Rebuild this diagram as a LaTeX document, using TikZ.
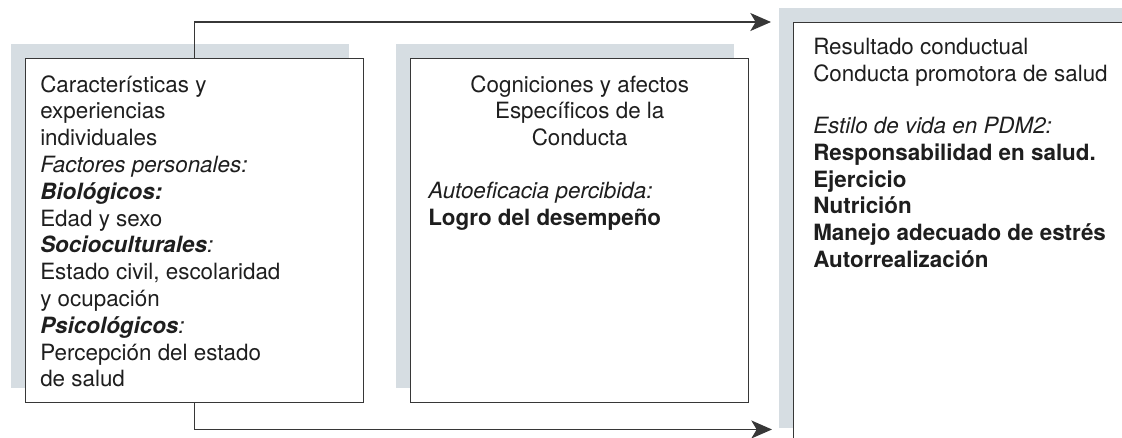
\documentclass[tikz,border=0pt]{standalone}
\usepackage{fontspec}
\setmainfont{TeX Gyre Heros}
\usetikzlibrary{arrows.meta,shadows}
\definecolor{grisazul}{RGB}{214,221,226}
\definecolor{linea}{RGB}{55,55,55}
\definecolor{tinta}{RGB}{30,30,30}
\tikzset{
	caja/.style={draw=linea, line width=1.1pt, fill=white, anchor=north west, inner sep=0pt,
		drop shadow={shadow xshift=-11.25pt, shadow yshift=11.25pt, fill=grisazul, opacity=1}},
	texto/.style={inner sep=0pt, text=tinta, font=\fontsize{16.8}{20.1}\selectfont},
	flecha/.style={draw=linea, line width=1.1pt, -{Stealth[length=15.5pt,width=13.5pt,inset=4pt]}}
}

\begin{document}
\begin{tikzpicture}[x=0.75pt,y=-0.75pt]
		\useasboundingbox (0,0) rectangle (1122,437);
		\node[caja, minimum width=253.5pt, minimum height=258pt] (indiv) at (25,58) {};
		\node[caja, minimum width=253.5pt, minimum height=258pt] (cogn) at (410,58) {};
		\node[caja, minimum width=270pt, minimum height=315pt] (result) at (793,22) {};
		\node[texto, anchor=north west, align=left] (indivtxt) at ([shift={(15,17)}]indiv.north west) {Características y\\
			experiencias\\
			individuales\\
			\textit{Factores personales:}\\
			\textbf{\textit{Biológicos:}}\\
			Edad y sexo\\
			\textbf{\textit{Socioculturales}}\textit{:}\\
			Estado civil, escolaridad\\
			y ocupación\\
			\textbf{\textit{Psicológicos}}\textit{:}\\
			Percepción del estado\\
			de salud};
		\node[texto, anchor=north, align=center] (cogntit) at ([yshift=-12.75pt]cogn.north) {Cogniciones y afectos\\
			Específicos de la\\
			Conducta};
		\node[texto, anchor=north west, align=left] (cogntxt) at ([shift={(18,124)}]cogn.north west) {\textit{Autoeficacia percibida:}\\
			\textbf{Logro del desempeño}};
		\node[texto, anchor=north west, align=left] (resulttxt) at ([shift={(20,16)}]result.north west) {Resultado conductual\\
			Conducta promotora de salud\\[19pt]
			\textit{Estilo de vida en PDM2:}\\
			\textbf{Responsabilidad en salud.}\\
			\textbf{Ejercicio}\\
			\textbf{Nutrición}\\
			\textbf{Manejo adecuado de estrés}\\
			\textbf{Autorrealización}};
		\coordinate (fin) at ([shift={(-21,-14)}]result.south west);
		\draw[flecha] (indiv.north) |- ([xshift=-16.5pt]result.north west);
		\draw[flecha] (indiv.south) |- (fin);
	\end{tikzpicture}
\end{document}
